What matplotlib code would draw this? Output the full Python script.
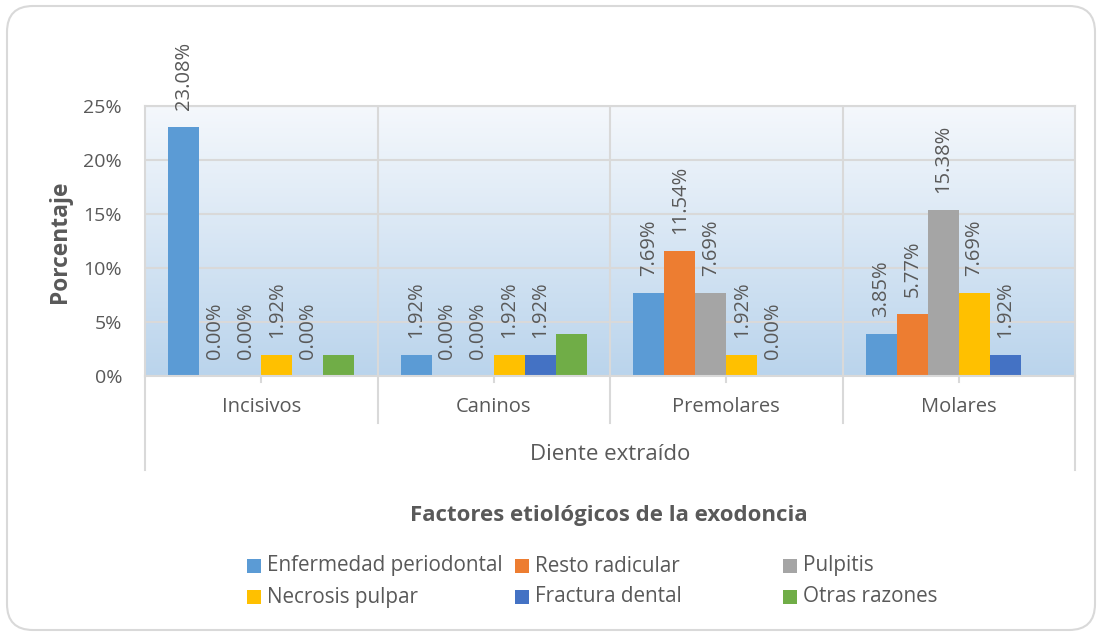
import matplotlib
matplotlib.use("Agg")
import matplotlib.pyplot as plt
import numpy as np
from matplotlib.patches import FancyBboxPatch, Rectangle
from matplotlib.transforms import blended_transform_factory, IdentityTransform

plt.rcParams['font.family'] = ['Open Sans', 'DejaVu Sans']

categories = ["Incisivos", "Caninos", "Premolares", "Molares"]
series_names = ["Enfermedad periodontal", "Resto radicular", "Pulpitis",
                "Necrosis pulpar", "Fractura dental", "Otras razones"]
enfermedad = [23.08, 1.92, 7.69, 3.85]
resto = [0.00, 0.00, 11.54, 5.77]
pulpitis = [0.00, 0.00, 7.69, 15.38]
necrosis = [1.92, 1.92, 1.92, 7.69]
fractura = [0.00, 1.92, 0.00, 1.92]
otras = [1.92, 3.85, 0.00, 0.00]
series_values = [enfermedad, resto, pulpitis, necrosis, fractura, otras]
show_labels = [True, True, True, True, True, False]
yticks = [0, 5, 10, 15, 20, 25]
ytick_labels = ["0%", "5%", "10%", "15%", "20%", "25%"]

colors = ["#5B9BD5", "#ED7D31", "#A5A5A5", "#FFC000", "#4472C4", "#70AD47"]
txt = "#595959"
grid_c = "#D9D9D9"

W, H = 1097, 633
fig = plt.figure(figsize=(W / 100, H / 100), dpi=100)

# rounded outer border (pixel coordinates)
fig.patches.append(FancyBboxPatch((7, H - 630), 1095 - 7, 630 - 6,
                                  boxstyle="round,pad=0,rounding_size=26",
                                  transform=IdentityTransform(), fill=False,
                                  edgecolor=grid_c, linewidth=1.5))

L, R, T, B = 145, 1075, 106, 376
ax = fig.add_axes([L / W, 1 - B / H, (R - L) / W, (B - T) / H])
ncat = len(categories)
ax.set_xlim(0, ncat)
ax.set_ylim(0, 25)

# gradient background
grad = np.linspace(0, 1, 256).reshape(-1, 1)
top = np.array([0xF5, 0xF8, 0xFC]) / 255
bot = np.array([0xBA, 0xD4, 0xEC]) / 255
img = top[None, None, :] * (1 - grad[:, :, None]) + bot[None, None, :] * grad[:, :, None]
ax.imshow(img, extent=[0, ncat, 0, 25], aspect='auto', origin='upper', zorder=0)

ax.set_axisbelow(True)
ax.set_yticks(yticks)
ax.set_yticklabels(ytick_labels)
ax.grid(axis='y', color=grid_c, linewidth=1.5)
for xv in range(1, ncat):
    ax.axvline(xv, color=grid_c, linewidth=1.5, zorder=0.5)

nser = len(series_values)
w = 1.0 / (nser + 1.5)
x0 = np.arange(ncat)
for j, (vals, c, name, lab) in enumerate(zip(series_values, colors, series_names, show_labels)):
    xs = x0 + 0.75 * w + j * w + w / 2
    ax.bar(xs, vals, width=w, color=c, zorder=2, label=name)
    if lab:
        for xx, v in zip(xs, vals):
            ax.annotate(f"{v:.2f}%", (xx, v), xytext=(0, 17), textcoords='offset pixels',
                        rotation=90, ha='center', va='bottom', fontsize=14.5,
                        color=txt, annotation_clip=False)

for s in ax.spines.values():
    s.set_color(grid_c)
    s.set_linewidth(1.5)

ax.tick_params(axis='y', length=0, pad=16.5, labelsize=14, labelcolor=txt)
ax.set_xticks([])

# category axis (multi-level)
tr = blended_transform_factory(ax.transData, fig.transFigure)
def fy(px):
    return 1 - px / H
for xv in range(1, ncat):
    ax.plot([xv, xv], [fy(B), fy(423)], transform=tr, color=grid_c, lw=1.5, clip_on=False)
for xv in [0, ncat]:
    ax.plot([xv, xv], [fy(B), fy(470)], transform=tr, color=grid_c, lw=1.5, clip_on=False)
for i, cat in enumerate(categories):
    ax.plot([i + 0.5, i + 0.5], [fy(B), fy(382)], transform=tr, color=grid_c, lw=1.5, clip_on=False)
    ax.text(i + 0.5, fy(407), cat, transform=tr, ha='center', va='center',
            fontsize=14.5, color=txt)
ax.text(ncat / 2, fy(455), "Diente extraído", transform=tr, ha='center', va='center',
        fontsize=16, color=txt)

fig.text(60 / W, fy(242), "Porcentaje", rotation=90, ha='center', va='center',
         fontsize=16.4, fontweight='bold', color=txt)
fig.text(609 / W, fy(515), "Factores etiológicos de la exodoncia", ha='center', va='center',
         fontsize=16, fontweight='bold', color=txt)

# legend
leg_x = [247, 515, 783]
leg_y = [566, 597]
for k, (name, c) in enumerate(zip(series_names, colors)):
    r, col = divmod(k, 3)
    x, y = leg_x[col], leg_y[r]
    fig.patches.append(Rectangle((x / W, fy(y + 7)), 14 / W, 14 / H,
                                 transform=fig.transFigure, facecolor=c, edgecolor='none'))
    fig.text((x + 20) / W, fy(y), name, ha='left', va='center', fontsize=14.9, color=txt)

fig.savefig("out.png", dpi=100)
